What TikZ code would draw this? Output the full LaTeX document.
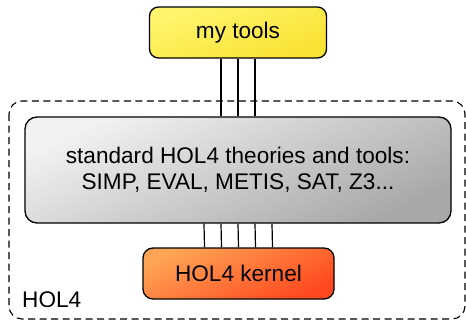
\documentclass[tikz,border=0pt]{standalone}
\usepackage{fontspec}
\setmainfont{Liberation Sans}
\begin{document}
\begin{tikzpicture}[x=1pt,y=-1pt,
  every node/.style={font=\fontsize{22.6}{26}\selectfont, inner sep=0pt},
  box/.style={draw=black, line width=1.3pt, shading=axis, align=center},
  wire/.style={draw=black, line width=1.2pt},
  hol/.style={draw=black, line width=1.1pt, dash pattern=on 7pt off 4.5pt, rounded corners=13pt}]
\useasboundingbox (0,0) rectangle (466,324);
\draw[hol] (9,101) rectangle (465,319);
\node[box, rounded corners=9pt, minimum width=177pt, minimum height=51pt,
  top color={rgb,255:red,255;green,245;blue,110}, bottom color={rgb,255:red,250;green,226;blue,50}, shading angle=20]
  (mt) at (238,32.5) {my tools};
\node[box, rounded corners=12pt, minimum width=426pt, minimum height=106pt,
  top color={rgb,255:red,242;green,242;blue,242}, bottom color={rgb,255:red,168;green,168;blue,168}, shading angle=25]
  (std) at (238,170) {standard HOL4 theories and tools:\\SIMP, EVAL, METIS, SAT, Z3...};
\node[box, rounded corners=10pt, minimum width=191pt, minimum height=51pt,
  top color={rgb,255:red,255;green,165;blue,85}, bottom color={rgb,255:red,255;green,72;blue,30}, shading angle=25]
  (k) at (238.5,273.5) {HOL4 kernel};
\node[anchor=base west] (hl) at (22,307) {HOL4};
\foreach \d in {-17,0,17} \draw[wire] ([xshift=\d pt]mt.south) -- ([xshift=\d pt]std.north);
\foreach \d in {-34,-17,0,17,34} \draw[wire] ([xshift=\d pt]std.south) -- ([xshift=\d pt]k.north);
\end{tikzpicture}
\end{document}
